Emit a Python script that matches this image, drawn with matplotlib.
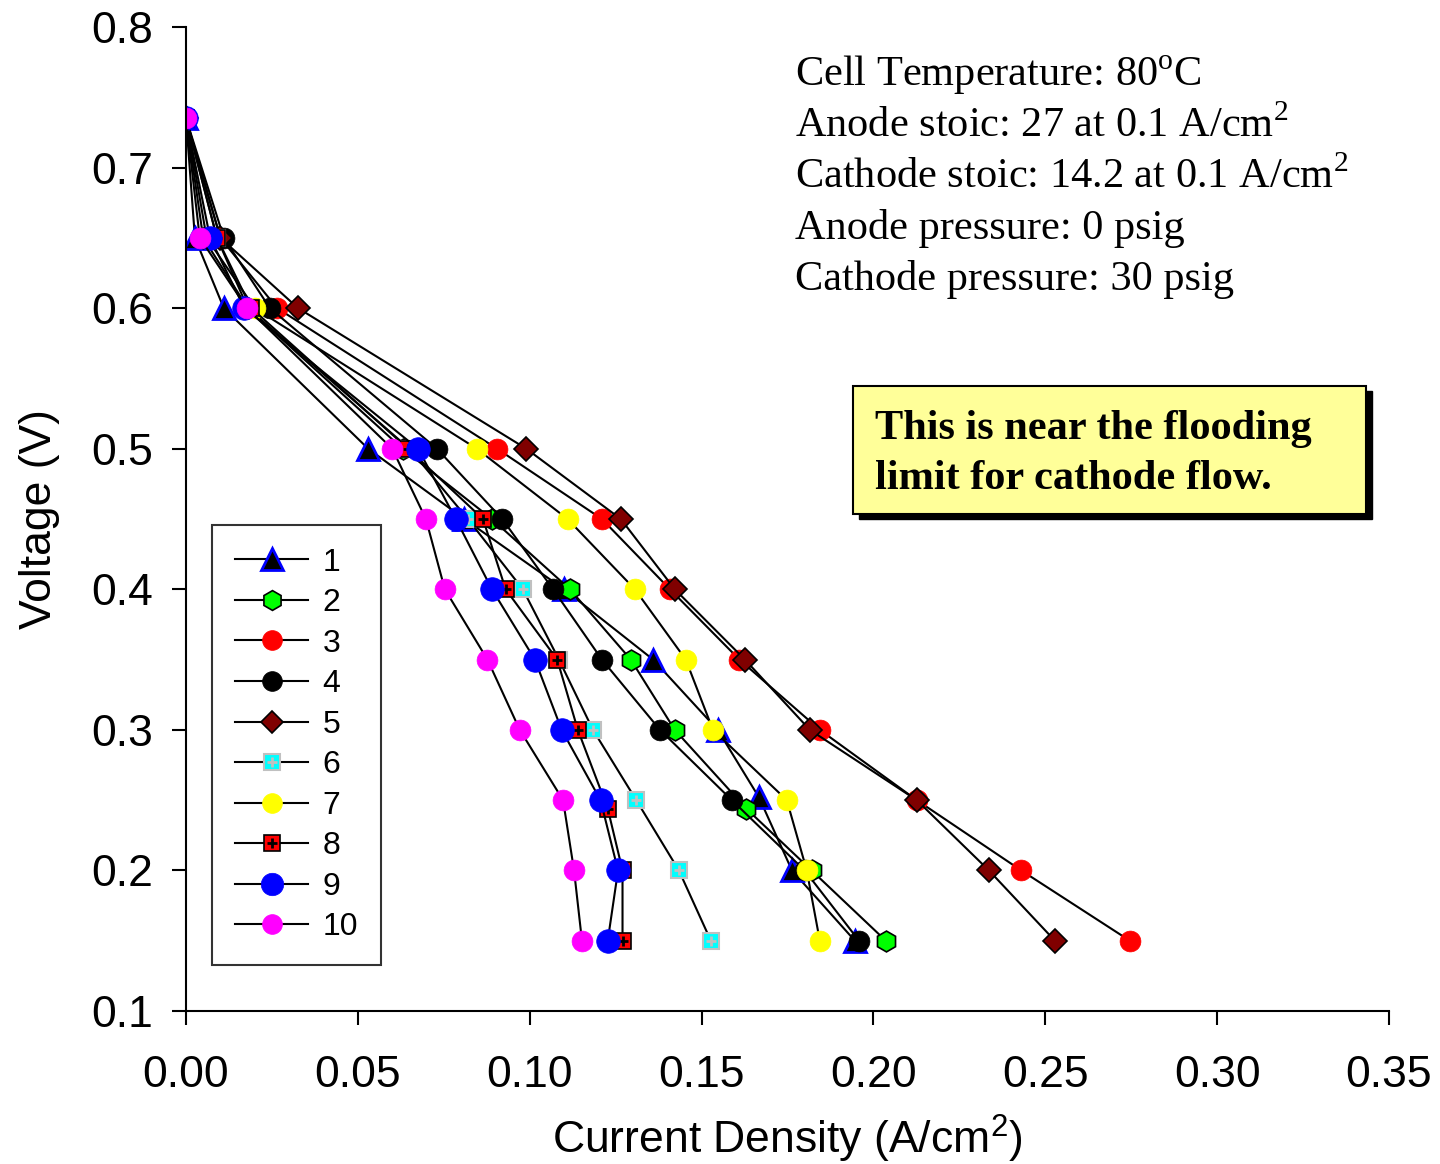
import matplotlib
matplotlib.use("Agg")
import matplotlib.pyplot as plt
from matplotlib.patches import Rectangle

plt.rcParams['font.family'] = ['Liberation Sans', 'DejaVu Sans']
plt.rcParams['mathtext.fontset'] = 'custom'
plt.rcParams['mathtext.rm'] = 'Liberation Serif'

# voltage levels (V)
v = [0.735, 0.65, 0.60, 0.50, 0.45, 0.40, 0.35, 0.30, 0.25, 0.20, 0.15]
v2 = [0.735, 0.65, 0.60, 0.50, 0.45, 0.40, 0.35, 0.30, 0.244, 0.20, 0.15]
v1 = [0.735, 0.65, 0.60, 0.50, 0.45, 0.40, 0.35, 0.30, 0.252, 0.20, 0.15]

# current density (A/cm2) per run
s1 = [0.0, 0.0026, 0.011, 0.053, 0.081, 0.110, 0.1359, 0.1547, 0.1667, 0.1763, 0.1946]
s2 = [0.0, 0.005, 0.018, 0.063, 0.089, 0.1117, 0.1294, 0.1422, 0.163, 0.182, 0.2036]
s3 = [0.0, 0.010, 0.0265, 0.0905, 0.121, 0.1408, 0.161, 0.1844, 0.2126, 0.243, 0.2746]
s4 = [0.0, 0.011, 0.0244, 0.073, 0.092, 0.1068, 0.121, 0.1379, 0.1588, 0.180, 0.1958]
s5 = [0.0, 0.010, 0.0326, 0.099, 0.1265, 0.1422, 0.1626, 0.1815, 0.2126, 0.2336, 0.2528]
s6 = [0.0, 0.009, 0.018, 0.065, 0.082, 0.098, 0.1085, 0.1184, 0.131, 0.1434, 0.1527]
s7 = [0.0, 0.006, 0.020, 0.0846, 0.111, 0.1306, 0.1454, 0.1533, 0.1748, 0.1806, 0.1844]
s8 = [0.0, 0.009, 0.019, 0.0646, 0.0864, 0.093, 0.108, 0.114, 0.1227, 0.127, 0.127]
s9 = [0.0, 0.007, 0.017, 0.0675, 0.0785, 0.089, 0.1015, 0.1093, 0.1206, 0.1257, 0.1227]
s10 = [0.0, 0.004, 0.0177, 0.060, 0.0698, 0.0753, 0.0877, 0.0971, 0.1097, 0.1129, 0.1152]

labels = ["1", "2", "3", "4", "5", "6", "7", "8", "9", "10"]
xticks = [0.00, 0.05, 0.10, 0.15, 0.20, 0.25, 0.30, 0.35]
yticks = [0.1, 0.2, 0.3, 0.4, 0.5, 0.6, 0.7, 0.8]

notes = ["Cell Temperature: 80$^{\\mathrm{o}}$C",
         "Anode stoic: 27 at 0.1 A/cm$^{\\mathrm{2}}$",
         "Cathode stoic: 14.2 at 0.1 A/cm$^{\\mathrm{2}}$",
         "Anode pressure: 0 psig",
         "Cathode pressure: 30 psig"]
callout = ["This is near the flooding", "limit for cathode flow."]

W, H = 1440, 1164
fig = plt.figure(figsize=(14.4, 11.64), dpi=100)
ax = fig.add_axes([186 / W, 1 - 1011 / H, 1203 / W, 984 / H])

lw = 1.5
handles = []
h, = ax.plot(s1, v1, color='black', lw=lw, marker='^', ms=16, mfc='black', mec='blue', mew=2)
handles.append(h)
h, = ax.plot(s2, v2, color='black', lw=lw, marker='h', ms=15, mfc='#00FF00', mec='black', mew=1.2)
handles.append(h)
h, = ax.plot(s3, v, color='black', lw=lw, marker='o', ms=15, mfc='red', mec='red', mew=0.5)
handles.append(h)
h, = ax.plot(s4, v, color='black', lw=lw, marker='o', ms=15, mfc='black', mec='black', mew=0.5)
handles.append(h)
h, = ax.plot(s5, v, color='black', lw=lw, marker='D', ms=12, mfc='#800000', mec='black', mew=1.2)
handles.append(h)
h6a, = ax.plot(s6, v, color='black', lw=lw, marker='s', ms=12, mfc='cyan', mec='#C0C0C0', mew=1.5)
h6b, = ax.plot(s6, v, ls='none', marker='+', ms=7, mec='#C0C0C0', mew=2)
handles.append((h6a, h6b))
h, = ax.plot(s7, v, color='black', lw=lw, marker='o', ms=15, mfc='yellow', mec='yellow', mew=0.5)
handles.append(h)
h8a, = ax.plot(s8, v2, color='black', lw=lw, marker='s', ms=12, mfc='red', mec='black', mew=1.2)
h8b, = ax.plot(s8, v2, ls='none', marker='+', ms=7, mec='black', mew=2)
handles.append((h8a, h8b))
h, = ax.plot(s9, v, color='black', lw=lw, marker='o', ms=17, mfc='blue', mec='blue', mew=0.5)
handles.append(h)
h, = ax.plot(s10, v, color='black', lw=lw, marker='o', ms=15, mfc='magenta', mec='magenta', mew=0.5)
handles.append(h)

ax.set_xlim(0, 0.35)
ax.set_ylim(0.1, 0.8)
ax.set_xticks(xticks)
ax.set_yticks(yticks)
ax.set_xticklabels([f"{t:.2f}" for t in xticks])
ax.set_yticklabels([f"{t:.1f}" for t in yticks])
ax.spines['top'].set_visible(False)
ax.spines['right'].set_visible(False)
ax.spines['left'].set_linewidth(1.5)
ax.spines['bottom'].set_linewidth(1.5)
ax.tick_params(direction='out', length=10, width=1.5, labelsize=32)
ax.tick_params(axis='y', pad=14)
ax.tick_params(axis='x', pad=22)
ax.set_xlabel("Current Density (A/cm$^{\\mathregular{2}}$)", fontsize=32, labelpad=12)
ax.set_ylabel("Voltage (V)", fontsize=32, labelpad=22)

leg = ax.legend(handles, labels, loc='lower left', bbox_to_anchor=(0.022, 0.047),
                borderaxespad=0, fontsize=23, frameon=True, fancybox=False,
                edgecolor='black', handlelength=2.3, handletextpad=0.45,
                labelspacing=0.33, borderpad=0.7, markerscale=0.95)
leg.get_frame().set_linewidth(1.5)

# text block upper right
for i, line in enumerate(notes):
    fig.text(795 / W, 1 - (86 + 51 * i) / H, line, family='Liberation Serif',
             fontsize=30.5, va='baseline', ha='left')

# yellow callout with shadow
fig.patches.append(Rectangle((859 / W, 1 - 519 / H), 513 / W, 128 / H,
                             transform=fig.transFigure, facecolor='black', edgecolor='black'))
fig.patches.append(Rectangle((853 / W, 1 - 514 / H), 513 / W, 128 / H,
                             transform=fig.transFigure, facecolor='#FFFF99', edgecolor='black', lw=1.5))
for i, line in enumerate(callout):
    fig.text(875 / W, 1 - (439 + 50 * i) / H, line, family='Liberation Serif',
             fontweight='bold', fontsize=30.5, va='baseline', ha='left')

fig.savefig("out.png", dpi=100)
